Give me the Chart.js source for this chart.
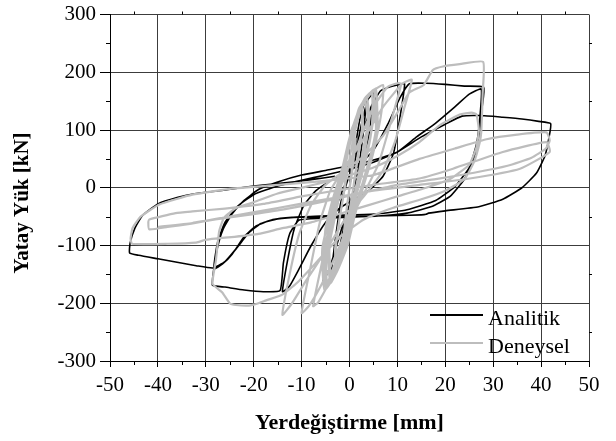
<!DOCTYPE html>
<html>
<head>
<meta charset="utf-8">
<script src="https://cdn.jsdelivr.net/npm/chart.js@4.4.0/dist/chart.umd.min.js"></script>
<style>
  html, body { margin: 0; padding: 0; background: #fff; }
</style>
</head>
<body>
<canvas id="chart" width="616" height="441"></canvas>
<script>
// Analitik (black) – displacement [mm] / lateral load [kN]
const analitikX = [
  0, 1.2, 2.2, 3.2, 3.6, 2.8, 1.8, 0.5, -1, -2.2, -3.2, -3.8, -2.8, -1.8, -0.5, 1, 2.5, 3.8, 4.8, 5.2,
  4.2, 3, 1.5, -0.5, -2.5, -4.2, -5.5, -4.5, -3.2, -1.5, 0.5, 2.5, 4.5, 6.5, 8.5, 10, 11.5,
  10.5, 9.2, 7, 4, 1, -2, -5, -8, -10.5, -12.5, -14,
  -12.8, -11.5, -9.5, -7, -4, -1, 2, 5, 8, 10.5, 12.5, 16, 20, 24, 28,
  27.7, 27.1, 26, 24, 21, 17, 12, 6, 0, -6, -10.5, -12.5, -13.8, -14.5, -18, -22, -26, -28.6,
  -28.4, -27.6, -26.4, -24.5, -22, -19, -15, -10, -5, 0, 5, 10, 14, 18, 22, 25, 27.5,
  27.2, 26.5, 25, 22, 18, 12, 6, 0, -6, -12, -16, -19.5, -22, -24.5, -26.5, -28.3,
  -28.1, -27.4, -26, -23.5, -20, -15, -10, -5, 0, 5, 10, 15, 20, 23.5, 27.5, 32, 36, 39.5, 42,
  41.6, 40.8, 39, 36, 32, 27, 20, 16.5, 16, 15, 10, 5, 0, -5, -10, -15, -18.5, -21, -23.5, -26, -28.5,
  -32, -36, -40, -44, -45.9,
  -45.8, -44.8, -43.2, -40, -36, -32, -26, -20, -14, -8, -3
];
const analitikY = [
  0, 70, 120, 150, 158, 90, 30, -15, -60, -110, -140, -150, -80, -25, 10, 50, 110, 152, 163, 166,
  100, 40, 0, -40, -95, -140, -162, -100, -45, -5, 30, 85, 140, 168, 175, 178, 180,
  120, 60, 20, -5, -20, -35, -60, -100, -140, -170, -180,
  -120, -70, -30, -5, 12, 25, 40, 65, 110, 155, 180, 181, 179, 176, 174,
  140, 95, 50, 15, -15, -33, -44, -49, -51, -53, -56, -80, -130, -178, -180, -177, -172, -169,
  -145, -105, -72, -45, -22, -3, 10, 22, 30, 38, 48, 62, 88, 112, 140, 162, 171,
  120, 75, 35, 2, -22, -38, -45, -47, -49, -51, -55, -66, -85, -115, -132, -141,
  -122, -90, -60, -33, -12, 3, 13, 22, 32, 44, 62, 88, 110, 124, 125, 122, 119, 115, 111,
  85, 55, 25, 0, -20, -33, -40, -44, -46, -47, -48, -49, -50, -51, -51, -54, -62, -78, -104, -128, -139,
  -135, -129, -123, -117, -113,
  -96, -70, -48, -28, -17, -10, -4, 3, 8, 14, 20
];

// Deneysel (grey) – test record
const deneyselX = [
  0, 0.8, 1.3, 0.6, -0.5, -1.2, -0.4, 0.4,
  1.2, 2.5, 2.6, 1.6, 0.8, -0.2, -1.2, -2.5, -2.8, -2, -1, 0, 1.2, 2.6, 2.8, 1.8, 0.9, -0.1, -1.3, -2.7, -3, -2.1, -1.1,
  -0.6, 0.8, 2.2, 3.2, 3.8, 3.6, 2.5, 1.4, 0.2, -1, -2.4, -3.8, -4.2, -3, -1.8,
  -0.7, 0.6, 2, 3.6, 4.1, 3.9, 2.8, 1.6, 0.4, -0.8, -2.2, -4, -4.5, -3.3, -2,
  -0.5, 0.8, 2.5, 5, 5.4, 5.5, 4.5, 2.8, 1, -0.6, -2.5, -5, -5.4, -5, -3.5, -2,
  -0.6, 0.4, 2.8, 5.5, 5.8, 5.9, 4.8, 3, 1.2, -0.4, -2.6, -5.2, -5.7, -5.6, -4.2, -2.7,
  -1.6, -0.2, 1.5, 3.2, 4.6, 4.8, 4.6, 3.6, 2, 0.3, -1.6, -3.4, -4.6, -4.9, -4.6, -3.2,
  -2, -0.9, 0.2, 1.9, 3.8, 5.2, 5, 4.1, 2.2, 0.6, -1, -3, -5, -5.2, -4.4,
  -1, 0.5, 2.5, 4.5, 7, 6.8, 6, 4.5, 2.5, 0.5, -1.5, -4, -6.5, -7.6,
  -5.5, -3.5, -1, 2, 5, 8, 10, 10.8, 8.5, 6, 3, 0, -3, -6, -8.5, -10,
  -8.2, -6.2, -4, -1, 3, 7, 11, 13, 11.5, 9.5, 7, 3, -1, -5, -9, -12, -14, -12.5, -10.5, -8, -5, -1, 3, 7, 10, 12.5, 15.5, 17.4, 19.5, 23, 27.9,
  27.8, 27.5, 27.2, 26, 24, 20, 15, 9, 3, -2, -7, -11, -14, -17.4, -19, -21, -23.7, -25, -26.6, -28.6,
  -27.9, -27.2, -26.2, -23.7, -20, -15, -10, -5, 0, 5, 10, 14.6, 18.8, 23, 25.5, 26.5, 27, 26.5, 25, 21, 16, 10, 4, -2, -8, -14, -19, -24, -28, -30, -32, -38, -45.4,
  -45.7, -45.3, -43.6, -39.7, -32.8, -25, -15, -5, 5, 14.6, 22, 28.6, 35, 41.1,
  41.8, 41, 38, 33, 26, 18, 10, 2, -6, -14, -22, -28, -33, -38, -41.8, -42, -41.8, -36.3, -32.8, -26, -18, -10, -3, 5, 14.6, 21.6, 32, 41.1, 41.8, 35.6, 25.1, 14.6, 5, -5, -15, -26.5, -32.8, -40
];
const deneyselY = [
  0, 50, 85, 30, -30, -80, -25, 25,
  100, 140, 100, 50, 0, -50, -100, -140, -100, -50, 0, 50, 100, 142, 105, 55, 5, -45, -100, -145, -105, -55, -5,
  50, 100, 140, 152, 120, 100, 50, 0, -50, -100, -140, -160, -100, -50, 0,
  45, 95, 138, 156, 125, 100, 50, 0, -50, -100, -138, -165, -105, -55, -5,
  60, 100, 140, 168, 130, 100, 60, 10, -40, -100, -140, -170, -120, -70, -20, 20,
  62, 100, 145, 172, 135, 100, 55, 5, -45, -100, -145, -178, -130, -100, -50, 0,
  30, 80, 125, 155, 166, 140, 100, 55, 5, -50, -110, -150, -172, -140, -95, -40,
  0, 40, 80, 125, 160, 170, 120, 80, 25, -25, -75, -130, -172, -120, -70,
  50, 100, 140, 165, 178, 140, 100, 50, 0, -50, -100, -160, -198, -205,
  -120, -40, 20, 80, 140, 175, 181, 180, 110, 40, -10, -60, -120, -170, -205, -217,
  -140, -60, -5, 35, 85, 140, 180, 187, 140, 80, 30, -15, -55, -110, -160, -200, -220, -150, -80, -30, 5, 30, 55, 90, 130, 165, 178, 204, 210, 214, 218,
  164, 96, 79, 45, 15, -5, -20, -35, -55, -85, -130, -165, -185, -195, -200, -204, -203, -200, -181, -166,
  -126, -75, -52, -35, -25, -10, 0, 10, 22, 35, 55, 79, 108, 127, 130, 127, 100, 70, 40, 15, 0, -15, -30, -45, -60, -70, -80, -85, -88, -90, -95, -97, -97,
  -88, -70, -50, -29, -12, -2, 5, 12, 22, 50, 68, 84, 92, 96,
  82, 68, 52, 38, 26, 15, 5, -10, -25, -38, -48, -55, -62, -68, -72, -60, -55, -44, -41, -36, -28, -15, -5, 5, 16, 33, 62, 79, 62, 33, 16, 5, -5, -20, -35, -52, -61, -68
];

const seriesNames = ["Analitik", "Deneysel"];
const seriesColors = ["#000000", "#bdbdbd"];
const serif = "'Liberation Serif', 'Times New Roman', serif";

const toPoints = (xs, ys) => xs.map((x, i) => ({ x, y: ys[i] }));

// small ticks between the labelled ones, on all four sides
const minorTicks = {
  id: "minorTicks",
  afterDraw(chart) {
    const { ctx, chartArea: a, scales: { x, y } } = chart;
    ctx.save();
    ctx.strokeStyle = "#000";
    ctx.lineWidth = 1;
    ctx.beginPath();
    for (let v = -45; v < 50; v += 10) {
      const px = Math.round(x.getPixelForValue(v)) + 0.5;
      ctx.moveTo(px, a.bottom);
      ctx.lineTo(px, a.bottom + 4);
      ctx.moveTo(px, a.top);
      ctx.lineTo(px, a.top - 3);
    }
    for (let v = -250; v < 300; v += 100) {
      const py = Math.round(y.getPixelForValue(v)) + 0.5;
      ctx.moveTo(a.left, py);
      ctx.lineTo(a.left - 4, py);
      ctx.moveTo(a.right, py);
      ctx.lineTo(a.right + 3, py);
    }
    ctx.stroke();
    ctx.restore();
  },
};

// y title sits a bit below the middle of the plot, so it is drawn here
const yTitle = {
  id: "yTitle",
  afterDraw(chart) {
    const { ctx } = chart;
    ctx.save();
    ctx.translate(23, 203);
    ctx.rotate(-Math.PI / 2);
    ctx.font = "bold 21px " + serif;
    ctx.fillStyle = "#000";
    ctx.textAlign = "center";
    ctx.textBaseline = "middle";
    ctx.fillText("Yatay Yük [kN]", 0, 0);
    ctx.restore();
  },
};

// legend inside the plot, bottom right, no box
const plotLegend = {
  id: "plotLegend",
  afterDraw(chart) {
    const { ctx, chartArea: a } = chart;
    ctx.save();
    ctx.font = "22px " + serif;
    ctx.fillStyle = "#000";
    ctx.textAlign = "left";
    ctx.textBaseline = "alphabetic";
    seriesNames.forEach((name, i) => {
      const ly = a.bottom - 46 + i * 28;
      ctx.strokeStyle = seriesColors[i];
      ctx.lineWidth = 2;
      ctx.beginPath();
      ctx.moveTo(a.right - 159, ly);
      ctx.lineTo(a.right - 106, ly);
      ctx.stroke();
      ctx.fillText(name, a.right - 101, ly + 10);
    });
    ctx.restore();
  },
};

new Chart(document.getElementById("chart"), {
  type: "scatter",
  data: {
    datasets: [
      {
        label: seriesNames[1],
        data: toPoints(deneyselX, deneyselY),
        showLine: true,
        borderColor: seriesColors[1],
        borderWidth: 2.2,
        pointRadius: 0,
        tension: 0.15,
      },
      {
        label: seriesNames[0],
        data: toPoints(analitikX, analitikY),
        showLine: true,
        borderColor: seriesColors[0],
        borderWidth: 1.6,
        pointRadius: 0,
        tension: 0.15,
      },
    ],
  },
  options: {
    responsive: false,
    animation: false,
    events: [],
    layout: { padding: { top: 11, right: 27, left: 0, bottom: 0 } },
    plugins: {
      legend: { display: false },
      tooltip: { enabled: false },
    },
    scales: {
      x: {
        type: "linear",
        min: -50,
        max: 50,
        ticks: {
          stepSize: 10,
          color: "#000",
          padding: 8,
          maxRotation: 0,
          font: { family: serif, size: 21, lineHeight: 1 },
        },
        grid: { color: "#3c3c3c", tickColor: "#000", tickLength: 6 },
        border: { color: "#000" },
        title: {
          display: true,
          text: "Yerdeğiştirme [mm]",
          color: "#000",
          font: { family: serif, size: 22, weight: "bold" },
          padding: { top: 0, bottom: 4 },
        },
        afterFit: (scale) => {
          scale.height = 80;
        },
      },
      y: {
        type: "linear",
        min: -300,
        max: 300,
        ticks: {
          stepSize: 100,
          color: "#000",
          padding: 4,
          font: { family: serif, size: 21, lineHeight: 1 },
        },
        grid: { color: "#3c3c3c", tickColor: "#000", tickLength: 10 },
        border: { color: "#000" },
        afterFit: (scale) => {
          scale.width = 110;
        },
      },
    },
  },
  plugins: [minorTicks, yTitle, plotLegend],
});
</script>
</body>
</html>
